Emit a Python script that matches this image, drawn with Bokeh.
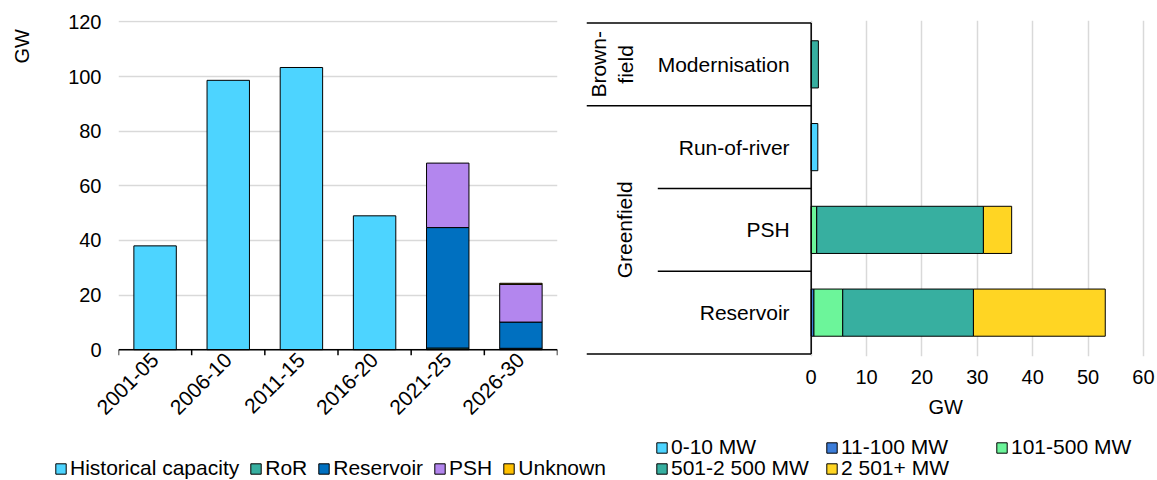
import math
from bokeh.plotting import figure
from bokeh.models import (FactorRange, Range1d, FixedTicker, Legend, LegendItem,
                          Title, ColumnDataSource)
from bokeh.layouts import row, column
from bokeh.embed import file_html
from bokeh.resources import INLINE
from bokeh.core.properties import value

FONT = "Liberation Sans"
FS_NUM = "20px"
FS_TXT = "21px"

# ---------------- Left chart data ----------------
periods = ["2001-05", "2006-10", "2011-15", "2016-20", "2021-25", "2026-30"]
historical = [38.0, 98.6, 103.3, 49.0, 0.0, 0.0]
ror = [0.0, 0.0, 0.0, 0.0, 0.6, 0.5]
reservoir = [0.0, 0.0, 0.0, 0.0, 44.1, 9.6]
psh = [0.0, 0.0, 0.0, 0.0, 23.6, 13.8]
unknown = [0.0, 0.0, 0.0, 0.0, 0.0, 0.4]
left_series = ["Historical capacity", "RoR", "Reservoir", "PSH", "Unknown"]
left_colors = ["#4DD4FF", "#37AFA0", "#0070C0", "#B386EE", "#FFC000"]
left_ticks = [0, 20, 40, 60, 80, 100, 120]
left_unit = "GW"

# ---------------- Right chart data ----------------
project_types = ["Reservoir", "PSH", "Run-of-river", "Modernisation"]
group_labels = ["Greenfield", "Brown-\nfield"]
mw_0_10 = [0.0, 0.0, 1.2, 0.0]
mw_11_100 = [0.5, 0.0, 0.0, 0.0]
mw_101_500 = [5.2, 1.0, 0.0, 0.0]
mw_501_2500 = [23.6, 30.1, 0.0, 1.3]
mw_2501 = [23.8, 5.1, 0.0, 0.0]
right_series = ["0-10 MW", "11-100 MW", "101-500 MW", "501-2 500 MW", "2 501+ MW"]
right_colors = ["#4DD4FF", "#3C7DD9", "#6CF59A", "#37AFA0", "#FFD523"]
right_ticks = [0, 10, 20, 30, 40, 50, 60]
right_unit = "GW"

GRID = "#D9D9D9"


def blank_fig(w, h):
    f = figure(width=w, height=h, x_range=Range1d(0, w), y_range=Range1d(0, h),
               x_axis_type=None, y_axis_type=None, output_backend="svg",
               toolbar_location=None, min_border=0)
    f.outline_line_color = None
    f.grid.visible = False
    return f


def style_legend(lg, spacing=15, label_width=20):
    lg.padding = 0
    lg.margin = 0
    lg.border_line_color = None
    lg.background_fill_alpha = 0
    lg.glyph_width = 13
    lg.glyph_height = 13
    lg.label_standoff = 3
    lg.spacing = spacing
    lg.label_width = label_width
    lg.label_text_font = FONT
    lg.label_text_font_size = FS_TXT
    lg.label_text_color = "black"


def make_source(key, cats, names, arrays):
    d = {key: cats}
    for n, arr in zip(names, arrays):
        d[n] = arr
        d["la_" + n] = [1.0 if v > 0 else 0.0 for v in arr]  # hide outlines of empty segments
    return ColumnDataSource(d)


# ================= "GW" strip for the left chart =================
TOP_H = 430
pg = blank_fig(36, TOP_H)
pg.text(x=[21], y=[TOP_H - 33], text=[left_unit], angle=math.pi / 2, text_align="center",
        text_baseline="middle", text_font=value(FONT), text_font_size=FS_NUM,
        text_color="black")

# ================= LEFT FIGURE =================
src1 = make_source("period", periods, left_series,
                   [historical, ror, reservoir, psh, unknown])

p1 = figure(width=550, height=TOP_H,
            x_range=FactorRange(factors=periods, range_padding=0),
            y_range=Range1d(-2.5, 120.5),
            output_backend="svg", toolbar_location=None,
            min_border_left=82, min_border_right=29,
            min_border_top=19, min_border_bottom=72)
p1.outline_line_color = None

p1.vbar_stack(left_series, x="period", width=0.58, source=src1,
              fill_color=left_colors, line_color="black", line_width=1,
              line_alpha=["la_" + n for n in left_series])

nb = len(periods)
p1.segment(x0=[0], y0=[0], x1=[nb], y1=[0], line_color="black", line_width=1.5)
p1.segment(x0=list(range(nb + 1)), y0=[0] * (nb + 1), x1=list(range(nb + 1)),
           y1=[-2.0] * (nb + 1), line_color="black", line_width=1.5)

p1.xgrid.grid_line_color = None
p1.ygrid.grid_line_color = GRID
p1.ygrid.grid_line_width = 1.5
p1.yaxis.ticker = FixedTicker(ticks=left_ticks)
for ax in (p1.xaxis[0], p1.yaxis[0]):
    ax.axis_line_color = None
    ax.major_tick_line_color = None
    ax.minor_tick_line_color = None
    ax.major_tick_out = 0
    ax.major_tick_in = 0
    ax.major_label_text_font = FONT
    ax.major_label_text_color = "black"
p1.yaxis.major_label_text_font_size = FS_NUM
p1.xaxis.major_label_text_font_size = FS_TXT
p1.yaxis.major_label_standoff = 17
p1.xaxis.major_label_orientation = math.pi / 4
p1.xaxis.major_label_standoff = 0

# ================= RIGHT FIGURE =================
src2 = make_source("ptype", project_types, right_series,
                   [mw_0_10, mw_11_100, mw_101_500, mw_501_2500, mw_2501])

p2 = figure(width=571, height=TOP_H,
            y_range=FactorRange(factors=project_types, range_padding=0.03,
                                range_padding_units="absolute"),
            x_range=Range1d(-40.57, 61.45),
            output_backend="svg", toolbar_location=None,
            min_border_left=0, min_border_right=6,
            min_border_top=20, min_border_bottom=74)
p2.outline_line_color = None

p2.hbar_stack(right_series, y="ptype", height=0.57, source=src2,
              fill_color=right_colors, line_color="black", line_width=1,
              line_alpha=["la_" + n for n in right_series])

p2.ygrid.grid_line_color = None
p2.xgrid.grid_line_color = GRID
p2.xgrid.grid_line_width = 1.5
p2.yaxis.visible = False
p2.xaxis.ticker = FixedTicker(ticks=right_ticks)
ax = p2.xaxis[0]
ax.axis_line_color = None
ax.major_tick_line_color = None
ax.minor_tick_line_color = None
ax.major_tick_out = 0
ax.major_tick_in = 0
ax.major_label_text_font = FONT
ax.major_label_text_font_size = FS_NUM
ax.major_label_text_color = "black"
ax.major_label_standoff = 13

# category "table" on the left of the bars
nt = len(project_types)
LEFT_EDGE = -40.57
INNER_EDGE = -27.7
p2.segment(x0=[LEFT_EDGE, LEFT_EDGE, INNER_EDGE, INNER_EDGE, LEFT_EDGE],
           y0=[4, 3, 2, 1, 0], x1=[0] * 5, y1=[4, 3, 2, 1, 0],
           line_color="black", line_width=1.5)
p2.segment(x0=[0], y0=[0], x1=[0], y1=[nt], line_color="black", line_width=1.5)

p2.text(x=[-3.9] * nt, y=project_types, text=project_types, text_align="right",
        text_baseline="middle", text_font=value(FONT), text_font_size=FS_TXT,
        text_color="black")
p2.text(x=[-33.7, -35.96], y=[1.5, 3.5], text=group_labels, angle=math.pi / 2,
        text_align="center", text_baseline="middle", text_font=value(FONT),
        text_font_size=FS_TXT, text_color="black", text_line_height=1.2)

p2.add_layout(Title(text=right_unit, align="left", offset=342, standoff=14,
                    text_font=FONT, text_font_size=FS_NUM, text_font_style="normal",
                    text_color="black"), "below")

# ================= legend strip across the bottom =================
lf = blank_fig(1157, 50)
all_colors = left_colors + right_colors
# off-canvas swatch sources used only by the legends
prox = [lf.vbar(x=[-60], bottom=[-60], top=[-50], width=10, fill_color=c,
                line_color="black", line_width=1) for c in all_colors]
prox_left, prox_right = prox[:len(left_colors)], prox[len(left_colors):]

legL = Legend(items=[LegendItem(label=n, renderers=[r]) for n, r in zip(left_series, prox_left)],
              location=(54, 0), orientation="horizontal")
style_legend(legL, spacing=10)
legRa = Legend(items=[LegendItem(label=n, renderers=[r])
                      for n, r in zip(right_series[:3], prox_right[:3])],
               location=(655, 21), orientation="horizontal")
style_legend(legRa, spacing=14, label_width=140)
legRb = Legend(items=[LegendItem(label=n, renderers=[r])
                      for n, r in zip(right_series[3:], prox_right[3:])],
               location=(655, 0), orientation="horizontal")
style_legend(legRb, spacing=14, label_width=140)
for lg in (legL, legRa, legRb):
    lf.add_layout(lg)

layout = column(row(pg, p1, p2), lf)
open("out.html", "w").write(file_html(layout, INLINE))
